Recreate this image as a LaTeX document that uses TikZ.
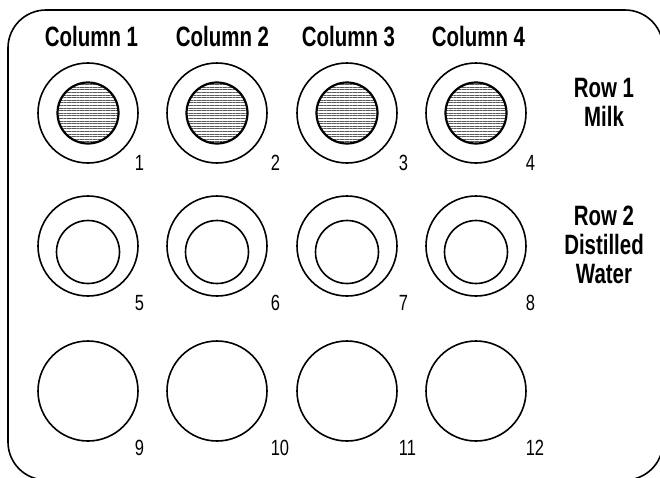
\documentclass[tikz,border=0pt]{standalone}
\usepackage{fontspec}
\newfontfamily\condfont[FakeStretch=0.73]{Liberation Sans}
\newfontfamily\numfont[FakeStretch=0.75]{Liberation Sans}
\usetikzlibrary{patterns.meta}

\begin{document}
\begin{tikzpicture}[x=1pt,y=-1pt,line width=1.6pt,
  well/.style={draw,circle,inner sep=0pt,minimum size=100pt},
  cup/.style={draw,circle,inner sep=0pt,minimum size=63pt},
  milk/.style={cup,minimum size=61pt,line width=2.2pt,
    pattern={Lines[angle=0,distance=2.6pt,line width=0.5pt]},pattern color=black!65},
  num/.style={anchor=west,inner sep=0pt,font=\numfont\fontsize{22}{22}\selectfont},
  head/.style={anchor=north,inner sep=0pt,font=\condfont\bfseries\fontsize{28}{29}\selectfont},
  rowlab/.style={head,align=center}]
  \useasboundingbox (0,0) rectangle (660,477);
  % tray
  \draw[rounded corners=38pt] (8,10) rectangle (663,480);
  % column headers
  \node[head] (col1) at (91.5,25) {Column 1};
  \node[head] (col2) at (222.5,25) {Column 2};
  \node[head] (col3) at (348.5,25) {Column 3};
  \node[head] (col4) at (478.5,25) {Column 4};
  % row labels
  \node[rowlab] (row1) at (604,77) {Row 1\\Milk};
  \node[rowlab] (row2) at (604,205) {Row 2\\Distilled\\Water};
  % row 1: milk
  \foreach \i/\x/\lx in {1/88/134,2/217/270,3/347/398,4/476/525}{
    \node[well] (w\i) at (\x,113) {};
    \node[milk] (c\i) at (w\i) {};
    \node[num] (n\i) at (\lx,163) {\i};
  }
  % row 2: distilled water
  \foreach \i/\x/\lx in {5/88/134,6/217/270,7/347/398,8/476/525}{
    \node[well] (w\i) at (\x,246) {};
    \node[cup] (c\i) at (\x,252) {};
    \node[num] (n\i) at (\lx,303) {\i};
  }
  % row 3: empty wells
  \foreach \i/\x/\lx in {9/88/134,10/217/270,11/347/398,12/476/525}{
    \node[well] (w\i) at (\x,391) {};
    \node[num] (n\i) at (\lx,448) {\i};
  }
\end{tikzpicture}
\end{document}
